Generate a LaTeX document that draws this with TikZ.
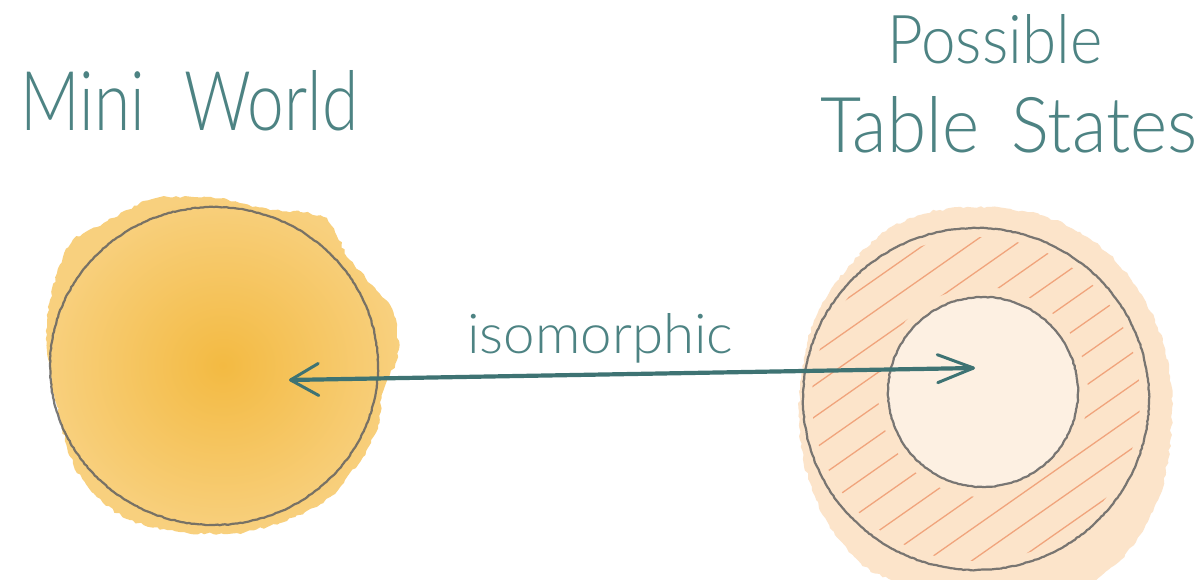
\documentclass[tikz,border=0pt]{standalone}
\usepackage{fontspec}
\setmainfont{Lato}[UprightFont=* Light]
\usepackage{graphicx}
\usetikzlibrary{arrows.meta,decorations.pathmorphing}
\definecolor{ink}{HTML}{4D8383}
\definecolor{arrowink}{HTML}{3E7373}
\definecolor{pencil}{HTML}{626262}
\definecolor{sunin}{HTML}{F3BA42}
\definecolor{sunout}{HTML}{F8D07E}
\definecolor{peach}{HTML}{FCE4CA}
\definecolor{peachin}{HTML}{FDF0E2}
\definecolor{hatchc}{HTML}{EC8A5C}
\tikzset{
  title/.style={anchor=base west, inner sep=0pt, text=ink},
  wash/.style={decorate, decoration={random steps, segment length=4pt, amplitude=1.3pt}},
  pencilline/.style={draw=pencil, line width=2.2pt, opacity=0.85, decorate,
     decoration={random steps, segment length=2.5pt, amplitude=0.4pt}},
  hatch/.style={draw=hatchc, line width=1.3pt, opacity=0.7, line cap=round},
  arrowline/.style={draw=arrowink, line width=4.2pt, line cap=round},
}
\begin{document}
\begin{tikzpicture}[x=1pt, y=-1pt]
\pgfmathsetseed{7}
\fill[white] (0,0) rectangle (1204,579);
\useasboundingbox (0,0) rectangle (1204,579);

% ---------- left watercolour disc ----------
\shade[inner color=sunin, outer color=sunout, wash]
  plot[smooth cycle] coordinates {(157,198) (207,197) (240,203) (270,210) (300,212) (323,217)
   (335,232) (350,260) (372,285) (390,305) (397,325) (398,357) (390,375) (382,395) (378,425)
   (363,457) (345,480) (330,497) (305,512) (280,523) (237,533) (180,532) (130,520) (97,497)
   (73,463) (57,407) (47,350) (50,300) (63,257) (73,240) (97,227) (127,210)};
\coordinate (leftc) at (214,366);
\path[pencilline] (leftc) ellipse [x radius=164, y radius=159];

% ---------- right watercolour disc ----------
\fill[peach, wash]
  plot[smooth cycle] coordinates {(940,210) (990,207) (1040,215) (1080,232) (1110,255)
   (1135,285) (1155,320) (1168,360) (1172,410) (1168,460) (1158,500) (1140,535) (1115,565)
   (1085,585) (1040,595) (980,600) (920,590) (870,570) (835,535) (812,490) (800,440)
   (800,390) (808,340) (825,300) (850,265) (880,235) (910,218)};
\coordinate (rightc) at (976,399);
\coordinate (innerc) at (983,392);
\fill[peachin] (innerc) circle [radius=95];

% hatching in the ring
\begin{scope}[even odd rule]
  \clip (rightc) ellipse [x radius=164, y radius=162] (innerc) circle [radius=105];
  \foreach \d in {-338,-312,...,338} {
    \draw[hatch] ({976+0.574*\d-0.819*260},{399+0.819*\d+0.574*260}) -- ++({0.819*520},{-0.574*520});
  }
\end{scope}

\path[pencilline] (rightc) ellipse [x radius=173, y radius=171];
\path[pencilline] (innerc) circle [radius=95];

% ---------- arrow ----------
\coordinate (lefttip) at (289,380);
\coordinate (righttip) at (975,368);
\draw[arrowline, {Straight Barb[length=28pt, width=32pt, line width=3pt, round]}-{Straight Barb[length=36pt, width=28pt, line width=3pt, round]}]
  (lefttip) -- (righttip);

% ---------- texts ----------
\node[title] (iso) at (467,353) {\resizebox{266pt}{40pt}{isomorphic}};
\node[title] (mini) at (20,130) {\resizebox{338pt}{60pt}{Mini\hspace{0.6em}World}};
\node[title] (poss) at (887,63) {\resizebox{215pt}{49pt}{Possible}};
\node[title] (table) at (820,152) {\resizebox{377pt}{56pt}{Table\hspace{0.45em}States}};
\end{tikzpicture}
\end{document}
